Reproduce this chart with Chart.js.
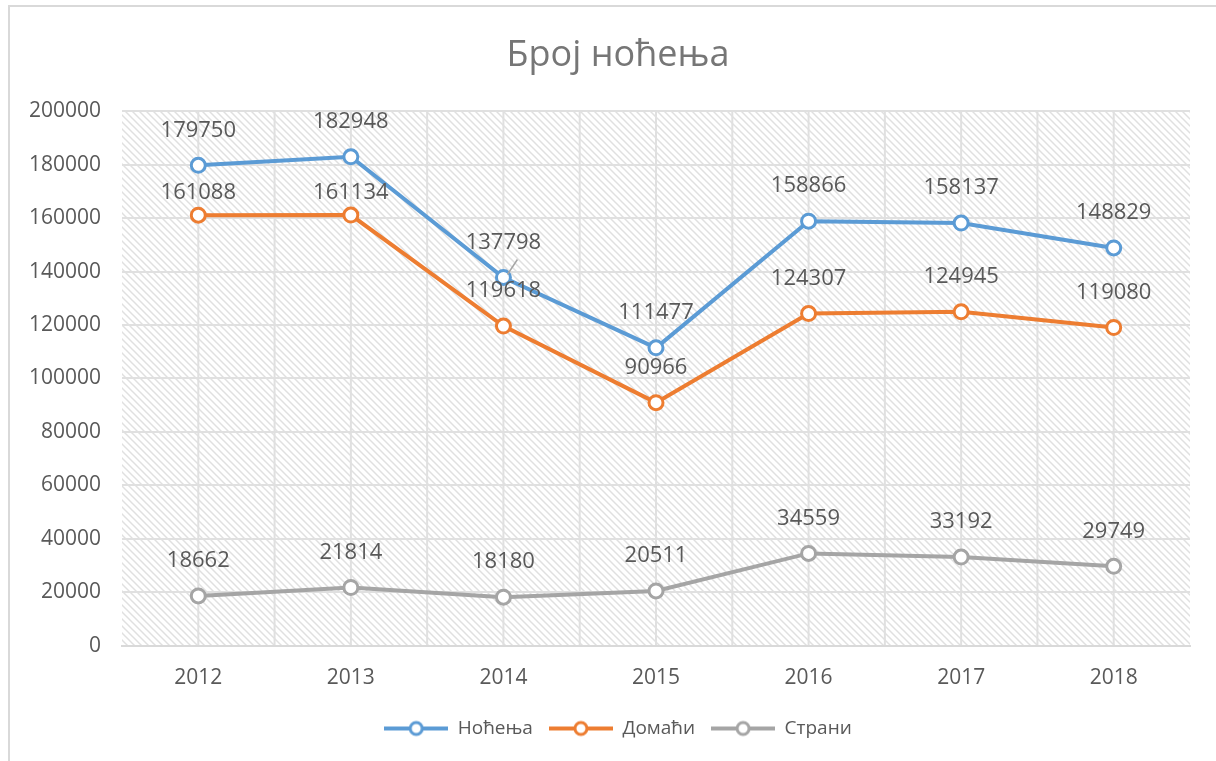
<!DOCTYPE html>
<html>
<head>
<meta charset="utf-8">
<script src="https://cdn.jsdelivr.net/npm/chart.js@4.4.1/dist/chart.umd.min.js"></script>
<style>
  body { margin: 0; background: #fff; }
  #frame { position: absolute; left: 8px; top: 5px; width: 1220px; height: 770px; border: 2px solid #d9d9d9; }
  #wrap { position: absolute; left: 0; top: 0; width: 1216px; height: 761px; }
</style>
</head>
<body>
<div id="frame"></div>
<div id="wrap"><canvas id="linechart-nocenja"></canvas></div>
<script>
var years = ['2012', '2013', '2014', '2015', '2016', '2017', '2018'];
var nocenja = [179750, 182948, 137798, 111477, 158866, 158137, 148829];
var domaci = [161088, 161134, 119618, 90966, 124307, 124945, 119080];
var strani = [18662, 21814, 18180, 20511, 34559, 33192, 29749];

var gray = '#595959';
var font = '"Open Sans", sans-serif';

function hatch() {
  var c = document.createElement('canvas');
  c.width = 7; c.height = 7;
  var g = c.getContext('2d');
  g.strokeStyle = '#e0e0e0';
  g.lineWidth = 1.5;
  g.beginPath();
  g.moveTo(-1, -1); g.lineTo(8, 8);
  g.moveTo(-1, 6); g.lineTo(1, 8);
  g.moveTo(6, -1); g.lineTo(8, 1);
  g.stroke();
  return c;
}

function legendIcon(color) {
  var c = document.createElement('canvas');
  c.width = 64; c.height = 18;
  var g = c.getContext('2d');
  g.strokeStyle = color;
  g.lineWidth = 4;
  g.beginPath(); g.moveTo(0, 9); g.lineTo(64, 9); g.stroke();
  g.fillStyle = '#fff';
  g.lineWidth = 3;
  g.beginPath(); g.arc(32, 9, 6, 0, Math.PI * 2); g.fill(); g.stroke();
  return c;
}

var backdrop = {
  id: 'backdrop',
  beforeDraw: function (chart) {
    // y axis box is kept narrow so title/legend centre like the original; let its labels overflow it
    chart.scales.y._computeLabelArea = function () {};
    var ctx = chart.ctx, a = chart.chartArea, x = chart.scales.x;
    var half = (x.getPixelForValue(1) - x.getPixelForValue(0)) / 2;
    ctx.save();
    ctx.fillStyle = ctx.createPattern(hatch(), 'repeat');
    ctx.fillRect(a.left, a.top, a.right - a.left, a.bottom - a.top);
    ctx.strokeStyle = '#e0e0e0';
    ctx.lineWidth = 2;
    for (var i = 0; i < years.length; i++) {
      var cx = x.getPixelForValue(i);
      var lines = [cx];
      if (i < years.length - 1) lines.push(cx + half);
      lines.forEach(function (px) {
        ctx.beginPath(); ctx.moveTo(px, a.top); ctx.lineTo(px, a.bottom); ctx.stroke();
      });
    }
    ctx.restore();
  }
};

var valueLabels = {
  id: 'valueLabels',
  afterDatasetsDraw: function (chart) {
    var ctx = chart.ctx;
    ctx.save();
    ctx.font = '22px ' + font;
    ctx.fillStyle = gray;
    ctx.textAlign = 'center';
    ctx.textBaseline = 'middle';
    chart.data.datasets.forEach(function (ds, di) {
      chart.getDatasetMeta(di).data.forEach(function (pt, i) {
        var shift = (di === 1 && i < 2) ? 22 : 35;
        ctx.fillText(String(ds.data[i]), pt.x, pt.y - shift);
        if (di === 0 && i === 2) {
          ctx.strokeStyle = '#a6a6a6';
          ctx.lineWidth = 1.5;
          ctx.beginPath(); ctx.moveTo(pt.x + 4, pt.y - 3); ctx.lineTo(pt.x + 14, pt.y - 18); ctx.stroke();
        }
      });
    });
    ctx.restore();
  }
};

function series(label, data, color) {
  return {
    label: label,
    data: data,
    borderColor: color,
    backgroundColor: '#fff',
    borderWidth: 4,
    pointRadius: 7,
    pointBorderWidth: 3,
    pointBackgroundColor: '#fff',
    pointBorderColor: color,
    tension: 0,
    icon: legendIcon(color)
  };
}

var ctx = document.getElementById('linechart-nocenja').getContext('2d');
var chart = new Chart(ctx, {
  type: 'line',
  data: {
    labels: years,
    datasets: [
      series('Ноћења', nocenja, '#5b9bd5'),
      series('Домаћи', domaci, '#ed7d31'),
      series('Страни', strani, '#a5a5a5')
    ]
  },
  options: {
    responsive: true,
    maintainAspectRatio: false,
    animation: false,
    layout: { padding: { left: 46, right: 26, top: 20, bottom: 13 } },
    plugins: {
      title: {
        display: true,
        text: 'Број ноћења',
        color: '#767676',
        font: { family: font, size: 36, weight: 'normal' },
        padding: { top: 14, bottom: 34 }
      },
      legend: {
        position: 'bottom',
        labels: {
          color: gray,
          font: { family: font, size: 19 },
          usePointStyle: true,
          pointStyleWidth: 64,
          padding: 16,
          generateLabels: function (c) {
            return c.data.datasets.map(function (ds, i) {
              return { text: ds.label, pointStyle: ds.icon, fontColor: gray, datasetIndex: i, lineWidth: 0 };
            });
          }
        }
      },
      tooltip: { enabled: false }
    },
    scales: {
      x: {
        offset: true,
        grid: { display: false },
        border: { color: '#d9d9d9', width: 2 },
        ticks: { color: gray, font: { family: font, size: 21 }, padding: 12 }
      },
      y: {
        min: 0,
        max: 200000,
        afterFit: function (scale) { scale.width = 76; },
        grid: { color: '#e0e0e0', lineWidth: 2, drawTicks: false },
        border: { display: false },
        ticks: {
          stepSize: 20000,
          color: gray,
          font: { family: font, size: 21 },
          padding: 21,
          callback: function (v) { return String(v); }
        }
      }
    }
  },
  plugins: [backdrop, valueLabels]
});
</script>
</body>
</html>
